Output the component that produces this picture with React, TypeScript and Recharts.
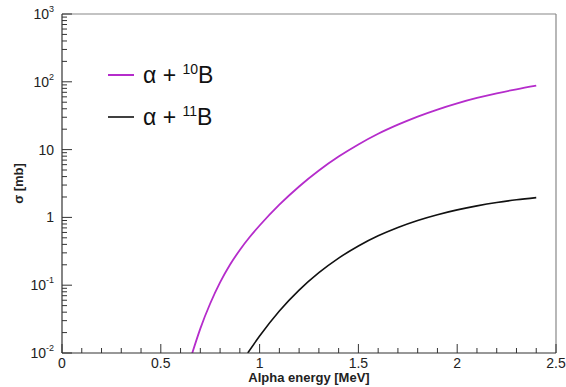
import React from 'react';
import { LineChart, Line, XAxis, YAxis, ReferenceLine, Legend } from 'recharts';

// alpha + 10B cross section [mb] vs alpha energy [MeV]
const b10Energy = [0.655, 0.7, 0.75, 0.8, 0.85, 0.9, 0.95, 1.0, 1.1, 1.2, 1.3, 1.4, 1.5, 1.6, 1.7, 1.8, 1.9, 2.0, 2.1, 2.2, 2.3, 2.4];
const b10Sigma = [0.00912, 0.0229, 0.0537, 0.11, 0.2, 0.331, 0.513, 0.759, 1.54, 2.86, 4.92, 7.89, 11.9, 17.1, 23.3, 30.7, 39.0, 48.1, 57.7, 67.6, 77.6, 87.7];

// alpha + 11B
const b11Energy = [0.94, 1.0, 1.1, 1.2, 1.3, 1.4, 1.5, 1.6, 1.7, 1.8, 1.9, 2.0, 2.1, 2.2, 2.3, 2.4];
const b11Sigma = [0.01, 0.0178, 0.0417, 0.0847, 0.153, 0.251, 0.379, 0.535, 0.711, 0.902, 1.096, 1.29, 1.48, 1.66, 1.82, 1.96];

const xMajorTicks = [0, 0.5, 1, 1.5, 2, 2.5];
const xTickLabels = ['0', '0.5', '1', '1.5', '2', '2.5'];
const xMinorStep = 0.1;

const yMajorTicks = [0.01, 0.1, 1, 10, 100, 1000];
// [base, exponent]
const yTickLabels = [['10', '-2'], ['10', '-1'], ['1', ''], ['10', ''], ['10', '2'], ['10', '3']];

const MAGENTA = '#b52ccb';
const FONT = '"Liberation Sans", Arial, Helvetica, sans-serif';

const b10Data = b10Energy.map((e, i) => ({ e, s: b10Sigma[i] }));
const b11Data = b11Energy.map((e, i) => ({ e, s: b11Sigma[i] }));

// ticks every 0.1, majors every 0.5
const xTicks: number[] = [];
for (let i = 0; i <= Math.round(2.5 / xMinorStep); i++) xTicks.push(+(i * xMinorStep).toFixed(1));

// log ticks: 1..9 in each decade
const yTicks: number[] = [];
yMajorTicks.forEach((d, i) => {
  yTicks.push(d);
  if (i < yMajorTicks.length - 1) {
    for (let m = 2; m <= 9; m++) yTicks.push(+(d * m).toPrecision(3));
  }
});

const XTick = (props: any) => {
  const { x, y, payload } = props;
  const idx = xMajorTicks.findIndex((t) => Math.abs(t - payload.value) < 1e-6);
  const major = idx >= 0;
  return (
    <g>
      <line x1={x} x2={x} y1={y} y2={y - (major ? 9 : 5)} stroke="#333" strokeWidth={1} />
      {major && (
        <text x={x} y={y + 15} textAnchor="middle" fontSize={14} fill="#222" fontFamily={FONT}>
          {xTickLabels[idx]}
        </text>
      )}
    </g>
  );
};

const YTick = (props: any) => {
  const { x, y, payload } = props;
  const idx = yMajorTicks.findIndex((t) => Math.abs(t - payload.value) / t < 1e-6);
  const major = idx >= 0;
  return (
    <g>
      <line x1={x} x2={x + (major ? 10 : 5)} y1={y} y2={y} stroke="#333" strokeWidth={1} />
      {major && (
        <text x={x - 8} y={y + 5} textAnchor="end" fontSize={14} fill="#222" fontFamily={FONT}>
          <tspan>{yTickLabels[idx][0]}</tspan>
          {yTickLabels[idx][1] && (
            <tspan dy={-7} fontSize={9}>
              {yTickLabels[idx][1]}
            </tspan>
          )}
        </text>
      )}
    </g>
  );
};

const YTitle = (props: any) => {
  const { viewBox } = props;
  const cx = 18;
  const cy = viewBox.y + viewBox.height / 2;
  return (
    <text
      x={cx}
      y={cy}
      transform={`rotate(-90, ${cx}, ${cy})`}
      textAnchor="middle"
      dominantBaseline="central"
      fontSize={13}
      fontWeight="bold"
      fill="#222"
      fontFamily={FONT}
    >
      σ [mb]
    </text>
  );
};

const legendItems = [
  { color: MAGENTA, width: 2, mass: '10' },
  { color: '#111', width: 1.6, mass: '11' },
];

const renderLegend = () => (
  <svg width={200} height={90}>
    {legendItems.map((it, i) => {
      const ly = 25 + i * 42;
      return (
        <g key={it.mass}>
          <line x1={8} x2={34} y1={ly} y2={ly} stroke={it.color} strokeWidth={it.width} />
          <text x={43} y={ly + 8} fontSize={23} fill="#111" fontFamily={FONT}>
            <tspan>α + </tspan>
            <tspan fontSize={14} dy={-9}>{it.mass}</tspan>
            <tspan dy={9}>B</tspan>
          </text>
        </g>
      );
    })}
  </svg>
);

export default function App() {
  return (
    <div style={{ width: 566, height: 387, background: '#fff', fontFamily: FONT }}>
      <style>{'body{margin:0}'}</style>
      <LineChart width={566} height={387} margin={{ top: 14, right: 10, bottom: 0, left: 0 }}>
        <XAxis
          dataKey="e"
          type="number"
          domain={[0, 2.5]}
          ticks={xTicks}
          interval={0}
          tickSize={0}
          tickMargin={0}
          tickLine={false}
          tick={<XTick />}
          height={34}
          axisLine={{ stroke: '#333', strokeWidth: 1.2 }}
          label={{
            value: 'Alpha energy [MeV]',
            position: 'insideBottom',
            offset: 5,
            fontSize: 13,
            fontWeight: 'bold',
            fill: '#222',
            fontFamily: FONT,
          }}
        />
        <YAxis
          type="number"
          scale="log"
          domain={[0.01, 1000]}
          allowDataOverflow
          ticks={yTicks}
          interval={0}
          tickSize={0}
          tickMargin={0}
          tickLine={false}
          tick={<YTick />}
          width={62}
          axisLine={{ stroke: '#333', strokeWidth: 1.2 }}
          label={<YTitle />}
        />
        <ReferenceLine y={1000} stroke="#888" strokeWidth={1.2} />
        <ReferenceLine x={2.5} stroke="#888" strokeWidth={1.2} />
        <Legend
          layout="vertical"
          align="center"
          verticalAlign="middle"
          content={renderLegend}
          wrapperStyle={{ position: 'absolute', left: 100, top: 50, width: 200, height: 90 }}
        />
        <Line
          data={b10Data}
          dataKey="s"
          type="monotone"
          stroke={MAGENTA}
          strokeWidth={1.8}
          dot={false}
          isAnimationActive={false}
        />
        <Line
          data={b11Data}
          dataKey="s"
          type="monotone"
          stroke="#111"
          strokeWidth={1.6}
          dot={false}
          isAnimationActive={false}
        />
      </LineChart>
    </div>
  );
}
